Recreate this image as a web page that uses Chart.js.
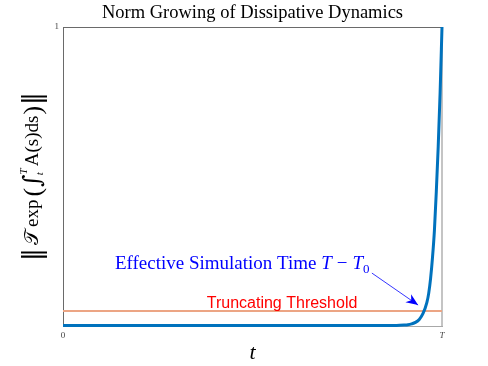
<!DOCTYPE html>
<html>
<head>
<meta charset="utf-8">
<script src="https://cdn.jsdelivr.net/npm/chart.js@4"></script>
<style>
  html, body { margin: 0; padding: 0; background: #fff; }
  #wrap { width: 488px; height: 366px; }
</style>
</head>
<body>
<div id="wrap"><canvas id="normChart"></canvas></div>
<script>
/* data (t scaled so that T = 1) */
const timeValues = [0, 0.25, 0.5, 0.75, 0.88, 0.9, 0.91, 0.92, 0.93, 0.94, 0.95, 0.96, 0.965, 0.97, 0.975, 0.98, 0.985, 0.99, 0.995, 1.0];
const normValues = [0.002, 0.002, 0.002, 0.002, 0.002, 0.003, 0.004, 0.007, 0.012, 0.022, 0.042, 0.078, 0.11, 0.16, 0.23, 0.32, 0.45, 0.6, 0.78, 1.0];
const thresholdTimes = [0, 1];
const thresholdValues = [0.05, 0.05];
const xTickValues = [0, 1];
const xTickLabels = ["0", "T"];
const yTickValues = [1];
const yTickLabels = ["1"];

const chartTitle = "Norm Growing of Dissipative Dynamics";
const serif = "'Liberation Serif', 'DejaVu Serif', serif";

/* y label pieces: [text, font, dx, dy] drawn along the rotated baseline */
const yLabelParts = [
  ["\u2016", "26px 'DejaVu Serif'", 0, 3],
  ["\uD835\uDCAF", "20px " + serif, 3, 0],
  ["exp", "19px " + serif, 3, 0],
  ["(", "26px " + serif, 3, 3],
  ["\u222B", "24px 'DejaVu Serif'", 1, 2],
  ["T", "italic 11px " + serif, 0, -11],
  ["t", "italic 11px " + serif, -7, 5],
  ["A(s)ds", "19px " + serif, 6, 0],
  [")", "26px " + serif, 1, 3],
  ["\u2016", "26px 'DejaVu Serif'", 1, 3]
];

/* Title, frame edges and y label */
const framePlugin = {
  id: "frame",
  beforeDatasetsDraw(chart) {
    const { ctx, chartArea: a } = chart;
    ctx.save();
    ctx.strokeStyle = "#c4c4c4";
    ctx.lineWidth = 2;
    ctx.beginPath();
    ctx.moveTo(a.right, a.top);
    ctx.lineTo(a.right, a.bottom);
    ctx.stroke();
    ctx.strokeStyle = "#6a6a6a";
    ctx.lineWidth = 1;
    ctx.beginPath();
    ctx.moveTo(a.left, a.top + 0.5);
    ctx.lineTo(a.right, a.top + 0.5);
    ctx.stroke();

    // title centred over the axes
    ctx.fillStyle = "#000";
    ctx.font = "18.5px " + serif;
    ctx.textAlign = "center";
    ctx.textBaseline = "middle";
    ctx.fillText(chartTitle, (a.left + a.right) / 2, 13);

    // y label, rotated
    ctx.textAlign = "left";
    ctx.textBaseline = "alphabetic";
    let total = 0;
    yLabelParts.forEach(p => {
      ctx.font = p[1];
      total += p[2] + ctx.measureText(p[0]).width;
    });
    ctx.translate(38, (a.top + a.bottom) / 2);
    ctx.rotate(-Math.PI / 2);
    let px = -total / 2;
    yLabelParts.forEach(p => {
      ctx.font = p[1];
      px += p[2];
      ctx.fillText(p[0], px, p[3]);
      px += ctx.measureText(p[0]).width;
    });
    ctx.restore();
  }
};

/* Annotations */
const notePlugin = {
  id: "notes",
  afterDatasetsDraw(chart) {
    const { ctx } = chart;
    const x = chart.scales.x, y = chart.scales.y;
    ctx.save();

    // threshold label
    ctx.fillStyle = "#ff0000";
    ctx.font = "16px 'Liberation Sans', Arial, sans-serif";
    ctx.textAlign = "center";
    ctx.textBaseline = "middle";
    ctx.fillText("Truncating Threshold", x.getPixelForValue(0.578), y.getPixelForValue(0.074));

    // effective simulation time label
    ctx.fillStyle = "#0000ff";
    ctx.textAlign = "left";
    ctx.textBaseline = "alphabetic";
    const baseY = y.getPixelForValue(0.19);
    let px = x.getPixelForValue(0.137);
    ctx.font = "19px " + serif;
    const plain = "Effective Simulation Time ";
    ctx.fillText(plain, px, baseY);
    px += ctx.measureText(plain).width;
    ctx.font = "italic 19px " + serif;
    ctx.fillText("T", px, baseY);
    px += ctx.measureText("T").width + 5;
    ctx.font = "19px " + serif;
    ctx.fillText("\u2212", px, baseY);
    px += ctx.measureText("\u2212").width + 5;
    ctx.font = "italic 19px " + serif;
    ctx.fillText("T", px, baseY);
    px += ctx.measureText("T").width;
    ctx.font = "13px " + serif;
    ctx.fillText("0", px, baseY + 4);

    // arrow
    const x0 = x.getPixelForValue(0.815), y0 = y.getPixelForValue(0.177);
    const x1 = x.getPixelForValue(0.937), y1 = y.getPixelForValue(0.07);
    ctx.strokeStyle = "#0000ff";
    ctx.lineWidth = 0.8;
    ctx.beginPath();
    ctx.moveTo(x0, y0);
    ctx.lineTo(x1, y1);
    ctx.stroke();
    const ang = Math.atan2(y1 - y0, x1 - x0);
    const len = 12, wid = 5;
    ctx.beginPath();
    ctx.moveTo(x1, y1);
    ctx.lineTo(x1 - len * Math.cos(ang) + wid * Math.sin(ang), y1 - len * Math.sin(ang) - wid * Math.cos(ang));
    ctx.lineTo(x1 - len * 0.7 * Math.cos(ang), y1 - len * 0.7 * Math.sin(ang));
    ctx.lineTo(x1 - len * Math.cos(ang) - wid * Math.sin(ang), y1 - len * Math.sin(ang) + wid * Math.cos(ang));
    ctx.closePath();
    ctx.fillStyle = "#0000ff";
    ctx.fill();
    ctx.restore();
  }
};

new Chart(document.getElementById("normChart"), {
  type: "line",
  data: {
    datasets: [
      {
        label: "norm",
        data: timeValues.map((t, i) => ({ x: t, y: normValues[i] })),
        borderColor: "#0072bd",
        borderWidth: 3,
        pointRadius: 0,
        cubicInterpolationMode: "monotone",
        clip: false,
        order: 1
      },
      {
        label: "threshold",
        data: thresholdTimes.map((t, i) => ({ x: t, y: thresholdValues[i] })),
        borderColor: "#eca584",
        borderWidth: 2,
        pointRadius: 0,
        order: 2
      }
    ]
  },
  options: {
    responsive: true,
    maintainAspectRatio: false,
    animation: false,
    layout: { padding: { left: 6, right: 46, top: 27, bottom: 0 } },
    plugins: {
      legend: { display: false },
      tooltip: { enabled: false }
    },
    scales: {
      x: {
        type: "linear",
        min: 0,
        max: 1,
        grid: { display: false, drawTicks: false },
        border: { display: true, color: "#a8a8a8", width: 1 },
        afterBuildTicks: axis => { axis.ticks = xTickValues.map(v => ({ value: v })); },
        ticks: {
          color: "#444",
          font: (c) => ({ family: serif, size: 9, style: c.index === 1 ? "italic" : "normal" }),
          padding: 4,
          maxRotation: 0,
          callback: (v) => xTickLabels[xTickValues.indexOf(v)]
        },
        title: {
          display: true,
          text: "t",
          color: "#000",
          font: { family: serif, size: 22, style: "italic" },
          padding: { top: 0, bottom: 0 }
        },
        afterFit: s => { s.height = 40; }
      },
      y: {
        min: 0,
        max: 1,
        grid: { display: false, drawTicks: false },
        border: { display: true, color: "#6a6a6a", width: 1 },
        afterBuildTicks: axis => { axis.ticks = yTickValues.map(v => ({ value: v })); },
        ticks: {
          color: "#444",
          font: { family: serif, size: 9 },
          padding: 4,
          callback: (v) => yTickLabels[yTickValues.indexOf(v)]
        },
        afterFit: s => { s.width = 57; }
      }
    }
  },
  plugins: [framePlugin, notePlugin]
});
</script>
</body>
</html>
